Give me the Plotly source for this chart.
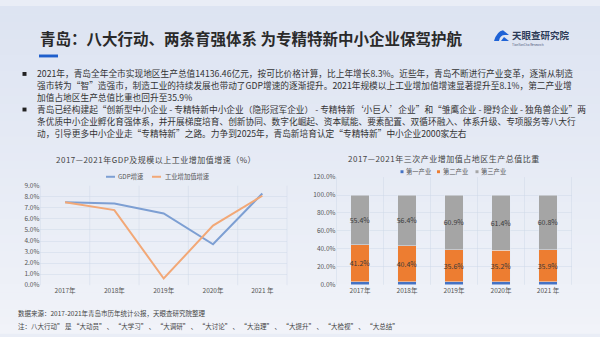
import plotly.graph_objects as go

# ---------------- data ----------------
years = ["2017年", "2018年", "2019年", "2020年", "2021 年"]
gdp_growth = [7.5, 7.4, 6.5, 3.7, 8.3]          # GDP增速 (%)
industry_growth = [7.5, 6.8, 0.6, 5.4, 8.1]     # 工业增加值增速 (%)
left_ticks = [0, 1, 2, 3, 4, 5, 6, 7, 8, 9]

primary_share = [3.4, 3.2, 3.5, 3.4, 3.3]       # 第一产业
secondary_share = [41.2, 40.4, 35.6, 35.2, 35.9]  # 第二产业
tertiary_share = [55.4, 56.4, 60.9, 61.4, 60.8]   # 第三产业
right_ticks = [0, 20, 40, 60, 80, 100, 120]

title_text = "青岛：八大行动、两条育强体系 为专精特新中小企业保驾护航"
bullet_lines = [
    ["2021年，青岛全年全市实现地区生产总值14136.46亿元，按可比价格计算，比上年增长8.3%。近些年，青岛不断进行产业变革，逐渐从制造",
     "强市转为“智”造强市，制造工业的持续发展也带动了GDP增速的逐渐提升。2021年规模以上工业增加值增速显著提升至8.1%，第二产业增",
     "加值占地区生产总值比重也回升至35.9%"],
    ["青岛已经构建起“创新型中小企业 - 专精特新中小企业（隐形冠军企业） - 专精特新‘小巨人’企业”和“雏鹰企业 - 瞪羚企业 - 独角兽企业”两",
     "条优质中小企业孵化育强体系，并开展梯度培育、创新协同、数字化崛起、资本赋能、要素配置、双循环融入、体系升级、专项服务等八大行",
     "动，引导更多中小企业走“专精特新”之路。力争到2025年，青岛新培育认定“专精特新”中小企业2000家左右"],
]
left_title = "2017—2021年GDP及规模以上工业增加值增速（%）"
right_title = "2017—2021年三次产业增加值占地区生产总值比重"
source_text = "数据来源：2017-2021年青岛市历年统计公报，天眼查研究院整理"
note_text = "注：八大行动” 是 “大动员” 、 “大学习” 、 “大调研” 、 “大讨论” 、 “大治理” 、 “大提升” 、 “大检视” 、 “大总结”"

W, H = 600, 337
FONT = "Noto Sans CJK SC"


def px(x):
    return x / W


def py(y):
    return 1 - y / H


def spaced(s):
    return "\u200a".join(s)


fig = go.Figure()

# ---------------- left: line chart ----------------
fig.add_trace(go.Scatter(
    x=years, y=gdp_growth, mode="lines", name="GDP增速",
    line=dict(color="#7d9fd3", width=2), xaxis="x", yaxis="y", showlegend=False))
fig.add_trace(go.Scatter(
    x=years, y=industry_growth, mode="lines", name="工业增加值增速",
    line=dict(color="#f2a877", width=2), xaxis="x", yaxis="y", showlegend=False))

# ---------------- right: stacked bars ----------------
fig.add_trace(go.Bar(
    x=years, y=primary_share, name="第一产业", marker_color="#4472c4",
    xaxis="x2", yaxis="y2", showlegend=False))
fig.add_trace(go.Bar(
    x=years, y=secondary_share, name="第二产业", marker_color="#ed7d31",
    text=[f"{v:.1f}%" for v in secondary_share], textposition="inside",
    insidetextanchor="middle", textangle=0,
    textfont=dict(size=7, color="#3a3a3a", family=FONT),
    xaxis="x2", yaxis="y2", showlegend=False))
fig.add_trace(go.Bar(
    x=years, y=tertiary_share, name="第三产业", marker_color="#a5a5a5",
    text=[f"{v:.1f}%" for v in tertiary_share], textposition="inside",
    insidetextanchor="middle", textangle=0,
    textfont=dict(size=7, color="#3a3a3a", family=FONT),
    xaxis="x2", yaxis="y2", showlegend=False))

grid = "rgba(205,214,230,0.45)"
tickfont = dict(size=6.5, color="#555555", family=FONT)

fig.update_layout(
    width=W, height=H,
    margin=dict(l=0, r=0, t=0, b=0),
    paper_bgcolor="#e9edf6",
    plot_bgcolor="rgba(0,0,0,0)",
    barmode="stack", bargap=0.61,
    font=dict(family=FONT),
    uniformtext=dict(minsize=6, mode="show"),
    xaxis=dict(domain=[px(40.4), px(287)], type="category", range=[-0.5, 4.5],
               showgrid=False, showline=False, ticks="", tickfont=tickfont,
               zeroline=False),
    yaxis=dict(domain=[py(287.7), py(185.3)], range=[0, 9], tickvals=left_ticks,
               ticktext=[f"{v:.1f}%" for v in left_ticks], tickfont=tickfont,
               showgrid=True, gridcolor=grid, zeroline=False, ticks=""),
    xaxis2=dict(domain=[px(336.5), px(571.5)], type="category", range=[-0.5, 4.5],
                showgrid=False, showline=False, ticks="", tickfont=tickfont,
                zeroline=False),
    yaxis2=dict(domain=[py(287.3), py(176.3)], range=[0, 120], tickvals=right_ticks,
                ticktext=[f"{v:.1f}%" for v in right_ticks], tickfont=tickfont,
                showgrid=True, gridcolor=grid, zeroline=False, ticks="",
                anchor="x2"),
)

shapes = []
# soft vertical gradient background
top_c = (221, 228, 242)
bot_c = (241, 243, 249)
n = 40
for i in range(n):
    t = i / (n - 1)
    c = tuple(int(top_c[k] + (bot_c[k] - top_c[k]) * t) for k in range(3))
    shapes.append(dict(type="rect", xref="paper", yref="paper", x0=0, x1=1,
                       y0=1 - (i + 1) / n - 0.002, y1=1 - i / n,
                       fillcolor=f"rgb{c}", line=dict(width=0), layer="below"))
# category separators in both plots
for i in range(6):
    shapes.append(dict(type="line", xref="x domain", yref="y domain",
                       x0=i / 5, x1=i / 5, y0=0, y1=1,
                       line=dict(color=grid, width=1), layer="below"))
    shapes.append(dict(type="line", xref="x2 domain", yref="y2 domain",
                       x0=i / 5, x1=i / 5, y0=0, y1=1,
                       line=dict(color=grid, width=1), layer="below"))
# title underline accent
shapes.append(dict(type="rect", xref="paper", yref="paper",
                   x0=px(39), x1=px(58), y0=py(53), y1=py(50),
                   fillcolor="#1f5fcc", line=dict(width=0)))
# logo mark
shapes.append(dict(type="path", xref="paper", yref="paper",
                   path=(f"M {px(494)} {py(36)} Q {px(497)} {py(26)} {px(503)} {py(25)} "
                         f"L {px(509)} {py(30)} L {px(505)} {py(30)} Q {px(500)} {py(30)} {px(499)} {py(36)} Z"),
                   fillcolor="#1f63d6", line=dict(width=0)))
shapes.append(dict(type="path", xref="paper", yref="paper",
                   path=(f"M {px(501)} {py(36)} L {px(504)} {py(32)} L {px(509)} {py(36)} Z"),
                   fillcolor="#1f63d6", line=dict(width=0)))
# legend swatches
shapes.append(dict(type="line", xref="paper", yref="paper",
                   x0=px(106), x1=px(115), y0=py(176), y1=py(176),
                   line=dict(color="#7d9fd3", width=2)))
shapes.append(dict(type="line", xref="paper", yref="paper",
                   x0=px(152), x1=px(161), y0=py(176), y1=py(176),
                   line=dict(color="#f2a877", width=2)))
for xs, col in [(400.5, "#4472c4"), (437, "#ed7d31"), (475.5, "#a5a5a5")]:
    shapes.append(dict(type="rect", xref="paper", yref="paper",
                       x0=px(xs), x1=px(xs + 3), y0=py(172.3), y1=py(169.3),
                       fillcolor=col, line=dict(width=0)))
# bullet squares
for yb in [70, 106.7]:
    shapes.append(dict(type="rect", xref="paper", yref="paper",
                       x0=px(22.5), x1=px(26.5), y0=py(yb + 2), y1=py(yb - 2),
                       fillcolor="#222222", line=dict(width=0)))

fig.update_layout(shapes=shapes)

ann = []


def text(x, y, s, size, color="#333333", anchor="left", bold=False):
    if bold:
        s = f"<b>{s}</b>"
    ann.append(dict(xref="paper", yref="paper", x=px(x), y=py(y), text=s,
                    showarrow=False, xanchor=anchor, yanchor="middle",
                    font=dict(size=size, color=color, family=FONT)))


text(38, 33, title_text, 15.5, "#2a2a2a", bold=True)
text(510, 29.5, "天眼查研究院", 9.5, "#2d3b57", bold=True)
text(510, 39.5, "TianYanCha Research", 3.2, "#556080")

line_y = [[70, 82.3, 94.6], [106.9, 119.2, 131.5]]
for lines, ys in zip(bullet_lines, line_y):
    for s, yy in zip(lines, ys):
        text(34.5, yy, s, 8.7, "#333333")

text(156, 158.5, spaced(left_title), 8, "#444444", anchor="center")
text(443, 157.5, spaced(right_title), 8, "#444444", anchor="center")

text(116, 176, "GDP增速", 6.3, "#555555")
text(162.5, 176, "工业增加值增速", 6.3, "#555555")
text(404, 170.8, "第一产业", 6.3, "#555555")
text(440.5, 170.8, "第二产业", 6.3, "#555555")
text(479, 170.8, "第三产业", 6.3, "#555555")

text(16, 316.7, source_text, 6.5, "#444444")
text(16, 329.3, note_text, 6.5, "#444444")

fig.update_layout(annotations=ann)

fig.write_html("out.html")
